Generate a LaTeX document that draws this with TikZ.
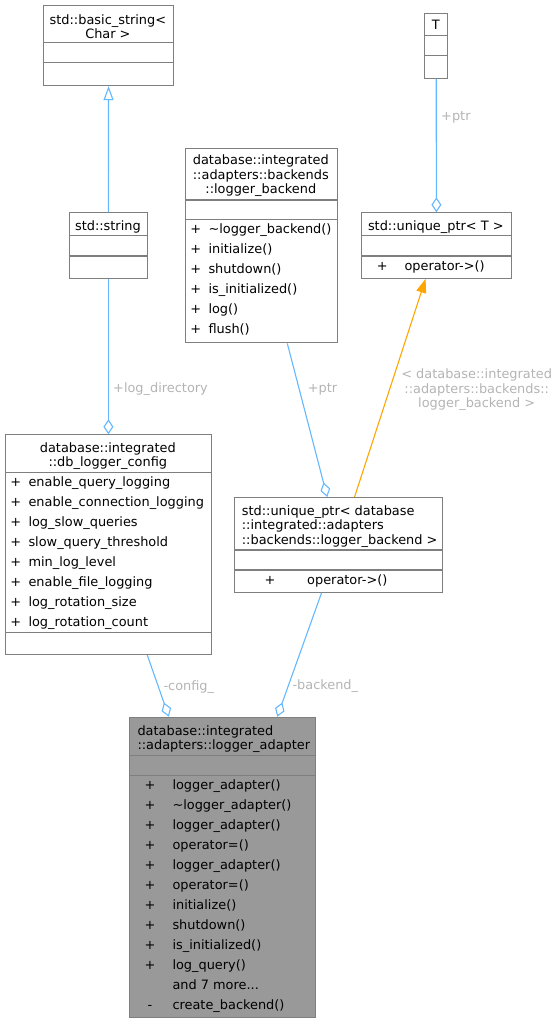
\documentclass[tikz,border=0pt]{standalone}
\usepackage{fontspec}
\setmainfont{DejaVu Sans}
\usetikzlibrary{arrows.meta}
\definecolor{edgeblue}{HTML}{63B8FF}
\definecolor{edgeorange}{HTML}{FFA500}
\definecolor{lblgray}{HTML}{B4B4B4}
\definecolor{boxgray}{HTML}{7F7F7F}
\definecolor{adfill}{HTML}{999999}
\begin{document}
\begin{tikzpicture}[x=1pt,y=-1pt,
  font=\fontsize{12.9}{14.6}\selectfont,
  cls/.style={draw=boxgray, line width=1.1pt, fill=white, inner sep=0pt, anchor=north west},
  sepline/.style={draw=boxgray, line width=1.1pt},
  txt/.style={inner sep=0pt, anchor=mid west, text=black, yshift=-2.3pt},
  ctxt/.style={inner sep=0pt, anchor=mid, text=black, yshift=-2.3pt},
  mtxt/.style={inner sep=0pt, text=black, yshift=-2.3pt},
  lbl/.style={inner sep=0pt, text=lblgray, anchor=mid west, yshift=-2.3pt},
  agg/.style={draw=edgeblue, line width=1.1pt, -{Diamond[open, length=15pt, width=10pt, fill=white]}},
  gen/.style={draw=edgeblue, line width=1.1pt, -{Triangle[open, length=14pt, width=10pt, fill=white]}},
  inst/.style={draw=edgeorange, line width=1.1pt, -{Triangle[length=14pt, width=10pt]}}
]
\useasboundingbox (0,0) rectangle (557,1023);

% ---- class boxes
\node[cls, minimum width=130.6pt, minimum height=80.3pt] (basic) at (42.7,4.7) {};
\draw[sepline] (42.7,42.7) -- (173.3,42.7);
\draw[sepline] (42.7,62.7) -- (173.3,62.7);
\node[mtxt, align=center, anchor=center] (basicT) at (107.9,24.2) {std::basic\_string<\\Char >};

\node[cls, minimum width=78.3pt, minimum height=65.4pt] (string) at (68.7,212.3) {};
\draw[sepline] (68.7,235.7) -- (147,235.7);
\draw[sepline] (68.7,256) -- (147,256);
\node[ctxt] (stringT) at (107.9,225) {std::string};

\node[cls, minimum width=152.3pt, minimum height=194.3pt] (backend) at (184.7,148) {};
\draw[sepline] (184.7,200) -- (337,200);
\draw[sepline] (184.7,219.7) -- (337,219.7);
\node[mtxt, align=center, anchor=center] (backendT) at (260.8,173.7) {database::integrated\\::adapters::backends\\::logger\_backend};
\foreach \n [count=\i from 0] in {\textasciitilde logger\_backend(), initialize(), shutdown(), is\_initialized(), log(), flush()} {
  \node[ctxt] (backendP\i) at (195.7,228.7+20*\i) {+};
  \node[txt] (backendM\i) at (208.3,228.7+20*\i) {\n};
}

\node[cls, minimum width=22.7pt, minimum height=65pt] (T) at (424.3,12.7) {};
\draw[sepline] (424.3,35.3) -- (447,35.3);
\draw[sepline] (424.3,55.7) -- (447,55.7);
\node[ctxt] (TT) at (435.7,24.3) {T};

\node[cls, minimum width=149.7pt, minimum height=65.4pt] (uptrT) at (361,212.3) {};
\draw[sepline] (361,235.7) -- (510.7,235.7);
\draw[sepline] (361,256) -- (510.7,256);
\node[ctxt] (uptrTT) at (435.8,225) {std::unique\_ptr< T >};
\node[ctxt] (uptrTP) at (382.3,265) {+};
\node[txt] (uptrTM) at (404.3,265) {operator->()};

\node[cls, minimum width=205.7pt, minimum height=219.7pt] (config) at (5,434.3) {};
\draw[sepline] (5,472.3) -- (210.7,472.3);
\draw[sepline] (5,632.7) -- (210.7,632.7);
\node[mtxt, align=center, anchor=center] (configT) at (107.8,453.7) {database::integrated\\::db\_logger\_config};
\foreach \n [count=\i from 0] in {enable\_query\_logging, enable\_connection\_logging, log\_slow\_queries, slow\_query\_threshold, min\_log\_level, enable\_file\_logging, log\_rotation\_size, log\_rotation\_count} {
  \node[ctxt] (configP\i) at (15.7,481.7+20*\i) {+};
  \node[txt] (configM\i) at (28.3,481.7+20*\i) {\n};
}

\node[cls, minimum width=208pt, minimum height=94.7pt] (uptrLB) at (234.3,497) {};
\draw[sepline] (234.3,550) -- (442.3,550);
\draw[sepline] (234.3,570) -- (442.3,570);
\node[mtxt, align=left, anchor=west] (uptrLBT) at (241.7,524) {std::unique\_ptr< database\\::integrated::adapters\\::backends::logger\_backend >};
\node[ctxt] (uptrLBP) at (270,579) {+};
\node[txt] (uptrLBM) at (307,579) {operator->()};

\node[cls, fill=adfill, minimum width=186pt, minimum height=300pt] (adapter) at (129.3,716.7) {};
\draw[sepline] (129.3,755.7) -- (315.3,755.7);
\draw[sepline] (129.3,775.7) -- (315.3,775.7);
\node[mtxt, align=left, anchor=west] (adapterT) at (137.3,737) {database::integrated\\::adapters::logger\_adapter};
\foreach \n [count=\i from 0] in {logger\_adapter(), \textasciitilde logger\_adapter(), logger\_adapter(), operator=(), logger\_adapter(), operator=(), initialize(), shutdown(), is\_initialized(), log\_query()} {
  \node[ctxt] (adapterP\i) at (150,784.3+20*\i) {+};
  \node[txt] (adapterM\i) at (172.3,784.3+20*\i) {\n};
}
\node[txt] (adapterMore) at (172.3,984.3) {and 7 more...};
\node[ctxt] (adapterPP) at (150,1004.3) {-};
\node[txt] (adapterMP) at (172.3,1004.3) {create\_backend()};

% ---- connectors
\draw[gen] (string.north) -- (basic.south);
\draw[agg] (string.south) -- (config.north);
\draw[agg] (T.south) -- (uptrT.north);
\draw[agg] ([xshift=25.9pt]backend.south) -- ([xshift=-11.6pt]uptrLB.north);
\draw[inst] ([xshift=15.7pt]uptrLB.north) -- ([xshift=-10.8pt]uptrT.south);
\draw[agg] ([xshift=38.9pt]config.south) -- ([xshift=-54pt]adapter.north);
\draw[agg] ([xshift=-17.3pt]uptrLB.south) -- ([xshift=54.4pt]adapter.north);

% ---- labels
\node[lbl] (lLogDir) at (113,387.7) {+log\_directory};
\node[lbl] (lPtrT) at (441,115.7) {+ptr};
\node[lbl] (lPtrB) at (307.7,387.7) {+ptr};
\node[lbl, anchor=center, align=center] (lTmpl) at (476.7,387.7) {< database::integrated\\::adapters::backends::\\logger\_backend >};
\node[lbl] (lConfig) at (163.3,685) {-config\_};
\node[lbl] (lBackend) at (292.3,684.3) {-backend\_};
\end{tikzpicture}
\end{document}
